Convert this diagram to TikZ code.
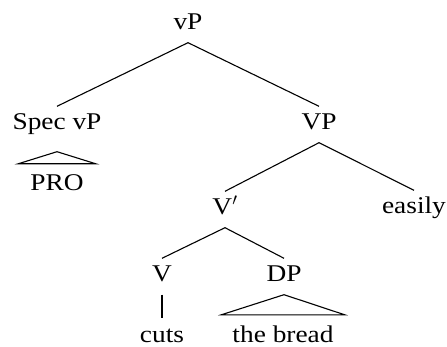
\documentclass[tikz,border=0pt]{standalone}
\usepackage{fontspec}
\setmainfont{Liberation Serif}[FakeStretch=1.14]
\begin{document}
\begin{tikzpicture}[x=1pt,y=-1pt,
  lab/.style={anchor=base,inner xsep=0pt,inner ysep=7.5pt,text height=16pt,text depth=5pt,
    font=\fontsize{24}{28}\selectfont},
  branch/.style={line width=1.1pt},
  roof/.style={line width=1.1pt,line join=miter}]
\useasboundingbox (0,0) rectangle (447,347);
\node[lab] (vP) at (188,30) {vP};
\node[lab] (spec) at (57,130) {Spec vP};
\node[lab] (VP) at (319,130) {VP};
\node[lab] (PRO) at (57,191) {PRO};
\node[lab] (Vbar) at (225,215) {V$'$};
\node[lab] (easily) at (414,214) {easily};
\node[lab] (V) at (162,282) {V};
\node[lab] (DP) at (284,282) {DP};
\node[lab] (cuts) at (162,342) {cuts};
\node[lab] (bread) at (283,342) {the bread};
\draw[branch] (spec.north) -- (vP.south) -- (VP.north);
\draw[branch] (Vbar.north) -- (VP.south) -- (easily.north);
\draw[branch] (V.north) -- (Vbar.south) -- (DP.north);
\draw[branch] (V.south) -- (cuts.north);
\draw[roof] ([xshift=-12pt,yshift=3.5pt]PRO.north west) -- ([yshift=-9pt]spec.south) -- ([xshift=12pt,yshift=3.5pt]PRO.north east) -- cycle;
\draw[roof] ([xshift=-11pt,yshift=3.5pt]bread.north west) -- (DP.south) -- ([xshift=11pt,yshift=3.5pt]bread.north east) -- cycle;
\end{tikzpicture}
\end{document}
